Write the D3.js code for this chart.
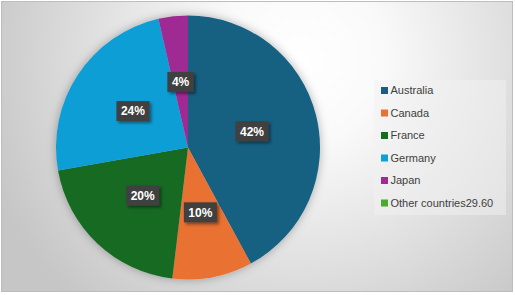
<!DOCTYPE html>
<html>
<head>
<meta charset="utf-8">
<script src="https://cdn.jsdelivr.net/npm/d3@7"></script>
<style>
  body { margin: 0; background: #fff; }
  svg { display: block; }
</style>
</head>
<body>
<svg id="chart" width="515" height="295"></svg>
<script>
// chart data
var countries = ['Australia', 'Canada', 'France', 'Germany', 'Japan', 'Other countries29.60'];
var shares = [42.1, 9.8, 20.3, 24.2, 3.6, 0];
var colors = ['#156082', '#E97132', '#196B24', '#0F9ED5', '#A02B93', '#4EA72E'];

var svg = d3.select('#chart');
var defs = svg.append('defs');

var bg = defs.append('radialGradient')
  .attr('id', 'bg')
  .attr('gradientUnits', 'userSpaceOnUse')
  .attr('cx', 300).attr('cy', 60).attr('r', 330);
bg.append('stop').attr('offset', '0%').attr('stop-color', '#ffffff');
bg.append('stop').attr('offset', '25%').attr('stop-color', '#fafafa');
bg.append('stop').attr('offset', '100%').attr('stop-color', '#c6c6c6');

var pieShadow = defs.append('filter').attr('id', 'pieShadow')
  .attr('x', '-20%').attr('y', '-20%').attr('width', '140%').attr('height', '140%');
pieShadow.append('feDropShadow')
  .attr('dx', 0).attr('dy', 0).attr('stdDeviation', 5)
  .attr('flood-color', '#000').attr('flood-opacity', 0.3);

var boxShadow = defs.append('filter').attr('id', 'boxShadow')
  .attr('x', '-30%').attr('y', '-30%').attr('width', '170%').attr('height', '180%');
boxShadow.append('feDropShadow')
  .attr('dx', 2).attr('dy', 2).attr('stdDeviation', 1.5)
  .attr('flood-color', '#000').attr('flood-opacity', 0.45);

svg.append('rect')
  .attr('x', 1.5).attr('y', 1.5).attr('width', 511).attr('height', 290)
  .attr('fill', 'url(#bg)')
  .attr('stroke', '#bdbdbd').attr('stroke-width', 1);

var cx = 188, cy = 147.5, R = 132;

var pie = d3.pie().sort(null).value(function(d) { return d; });
var arcs = pie(shares);
var arc = d3.arc().innerRadius(0).outerRadius(R);
var total = d3.sum(shares);

var g = svg.append('g').attr('transform', 'translate(' + cx + ',' + cy + ')');

g.append('g').attr('filter', 'url(#pieShadow)')
  .selectAll('path')
  .data(arcs)
  .enter().append('path')
  .attr('d', arc)
  .attr('fill', function(d, i) { return colors[i]; });

// percent labels in dark boxes
var labels = g.selectAll('.lbl')
  .data(arcs.filter(function(d) { return d.value > 0; }))
  .enter().append('g')
  .attr('class', 'lbl')
  .attr('transform', function(d) {
    var c = arc.centroid(d);
    return 'translate(' + c[0] + ',' + c[1] + ')';
  });

labels.each(function(d) {
  var sel = d3.select(this);
  var txt = Math.round(d.value / total * 100) + '%';
  var t = sel.append('text')
    .attr('text-anchor', 'middle')
    .attr('dy', '0.36em')
    .attr('fill', '#ffffff')
    .attr('font-family', 'Liberation Sans, Arial, sans-serif')
    .attr('font-weight', 'bold')
    .attr('font-size', 12)
    .text(txt);
  var w = t.node().getComputedTextLength() + 9;
  sel.insert('rect', 'text')
    .attr('x', -w / 2).attr('y', -10)
    .attr('width', w).attr('height', 20)
    .attr('fill', '#404040')
    .attr('filter', 'url(#boxShadow)');
});

// legend
var legend = svg.append('g').attr('transform', 'translate(374,80)');
legend.append('rect')
  .attr('width', 132).attr('height', 135)
  .attr('fill', '#f2f2f2').attr('fill-opacity', 0.5);

var item = legend.selectAll('.item')
  .data(countries)
  .enter().append('g')
  .attr('class', 'item')
  .attr('transform', function(d, i) { return 'translate(7,' + (10.5 + i * 22.5) + ')'; });

item.append('rect')
  .attr('x', 0).attr('y', -3.5)
  .attr('width', 7).attr('height', 7)
  .attr('fill', function(d, i) { return colors[i]; });

item.append('text')
  .attr('x', 9.5).attr('dy', '0.35em')
  .attr('fill', '#404040')
  .attr('font-family', 'Liberation Sans, Arial, sans-serif')
  .attr('font-size', 11)
  .text(function(d) { return d; });
</script>
</body>
</html>
